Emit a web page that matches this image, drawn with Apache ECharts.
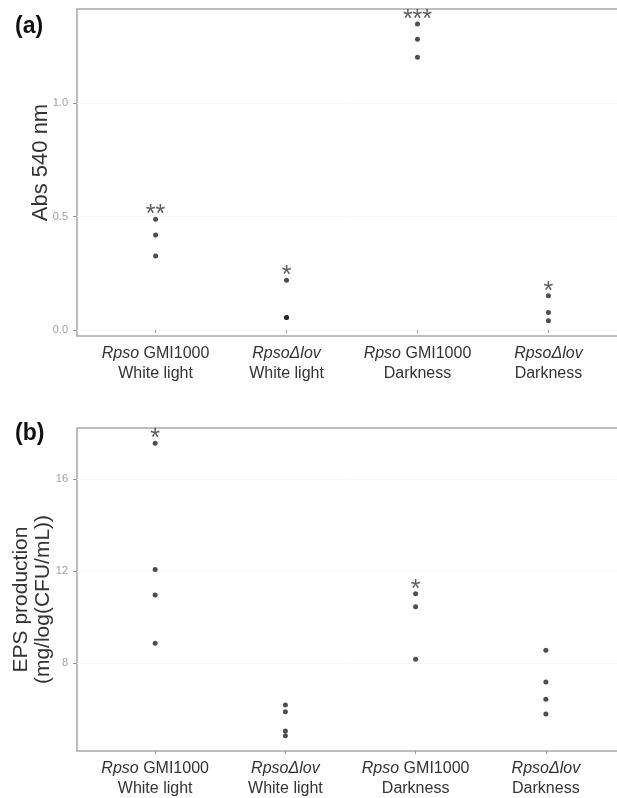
<!DOCTYPE html>
<html>
<head>
<meta charset="utf-8">
<script src="https://cdn.jsdelivr.net/npm/echarts@6/dist/echarts.min.js"></script>
<style>
  html, body { margin: 0; padding: 0; background: #fff; }
  #chart { width: 617px; height: 798px; }
</style>
</head>
<body>
<div id="chart"></div>
<script>
// strain / condition groups (x positions 1..4)
const groups = [
  '{i|Rpso} GMI1000\nWhite light',
  '{i|RpsoΔlov}\nWhite light',
  '{i|Rpso} GMI1000\nDarkness',
  '{i|RpsoΔlov}\nDarkness',
];

// (a) Abs 540 nm, one list per group
const absWhiteWT = [0.488, 0.419, 0.326];
const absWhiteLov = [0.220, 0.056, 0.056];
const absDarkWT = [1.348, 1.281, 1.201];
const absDarkLov = [0.151, 0.078, 0.041];
const absStars = ['**', '*', '***', '*'];
const absTicks = [0, 0.5, 1.0];

// (b) EPS production, one list per group
const epsWhiteWT = [17.58, 12.07, 10.96, 8.86];
const epsWhiteLov = [6.16, 5.87, 5.03, 4.83];
const epsDarkWT = [11.02, 10.45, 8.16];
const epsDarkLov = [8.55, 7.17, 6.42, 5.77];
const epsStars = ['*', '', '*', ''];
const epsTicks = [8, 12, 16];

const labelColor = '#333';
const tickColor = '#9a9a9a';
const dotColor = '#222';

function points(groupLists, stars) {
  const out = [];
  groupLists.forEach((vals, gi) => {
    const top = Math.max(...vals);
    let starDone = false;
    vals.forEach(v => {
      const item = { value: [gi + 1, v] };
      if (v === top && !starDone && stars[gi]) {
        starDone = true;
        item.label = {
          show: true,
          formatter: stars[gi],
          position: 'top',
          distance: -11,
          fontSize: 25,
          color: labelColor,
          fontFamily: 'Liberation Sans',
        };
      }
      out.push(item);
    });
  });
  return out;
}

function xAxisFor(gridIndex) {
  return {
    type: 'value',
    gridIndex: gridIndex,
    min: 0.4,
    max: 4.6,
    axisLine: { show: false },
    splitLine: { show: false },
    axisTick: {
      show: true,
      customValues: [1, 2, 3, 4],
      length: 3,
      lineStyle: { color: tickColor },
    },
    axisLabel: {
      customValues: [1, 2, 3, 4],
      formatter: v => groups[Math.round(v) - 1],
      margin: 8,
      fontSize: 16,
      lineHeight: 20,
      color: labelColor,
      fontFamily: 'Liberation Sans',
      rich: {
        i: { fontStyle: 'italic', fontSize: 16, lineHeight: 20, color: labelColor, fontFamily: 'Liberation Sans' },
      },
    },
  };
}

function yAxisFor(gridIndex, min, max, ticks, fmt, name, nameGap, nameSize, namePad) {
  return {
    type: 'value',
    gridIndex: gridIndex,
    min: min,
    max: max,
    name: name,
    nameLocation: 'middle',
    nameRotate: 90,
    nameGap: nameGap,
    nameMoveOverlap: false,
    nameTextStyle: {
      fontSize: nameSize,
      color: labelColor,
      fontFamily: 'Liberation Sans',
      lineHeight: nameSize + 1,
      padding: namePad,
    },
    axisLine: { show: false },
    splitLine: { show: true, lineStyle: { color: '#f8f8f8', width: 1 } },
    axisTick: {
      show: true,
      customValues: ticks,
      length: 4,
      lineStyle: { color: tickColor },
    },
    axisLabel: {
      customValues: ticks,
      formatter: fmt,
      margin: 9,
      fontSize: 11,
      color: '#a0a0a0',
      fontFamily: 'Liberation Sans',
    },
  };
}

const chart = echarts.init(document.getElementById('chart'));
chart.setOption({
  animation: false,
  backgroundColor: '#fff',
  title: [
    { text: '(a)', left: 10, top: 10, textStyle: { fontSize: 23, fontWeight: 'bold', color: '#111', fontFamily: 'Liberation Sans' } },
    { text: '(b)', left: 10, top: 417, textStyle: { fontSize: 23, fontWeight: 'bold', color: '#111', fontFamily: 'Liberation Sans' } },
  ],
  grid: [
    { left: 77, top: 9, width: 550, height: 327, outerBoundsMode: 'none', containLabel: false,
      show: true, borderColor: '#a8a8a8', borderWidth: 1.5, backgroundColor: 'transparent' },
    { left: 77, top: 428, width: 547, height: 323, outerBoundsMode: 'none', containLabel: false,
      show: true, borderColor: '#a8a8a8', borderWidth: 1.5, backgroundColor: 'transparent' },
  ],
  xAxis: [xAxisFor(0), xAxisFor(1)],
  yAxis: [
    yAxisFor(0, -0.026, 1.414, absTicks, v => v.toFixed(1), 'Abs 540 nm', 25, 22, [0, 0, 0, 20]),
    yAxisFor(1, 4.16, 18.24, epsTicks, v => String(v), 'EPS production\n(mg/log(CFU/mL))', 23, 21, [0, 20, 0, 0]),
  ],
  series: [
    {
      type: 'scatter',
      xAxisIndex: 0,
      yAxisIndex: 0,
      symbolSize: 5,
      itemStyle: { color: dotColor },
      data: points([absWhiteWT, absWhiteLov, absDarkWT, absDarkLov], absStars),
    },
    {
      type: 'scatter',
      xAxisIndex: 1,
      yAxisIndex: 1,
      symbolSize: 5,
      itemStyle: { color: dotColor },
      data: points([epsWhiteWT, epsWhiteLov, epsDarkWT, epsDarkLov], epsStars),
    },
  ],
});
</script>
</body>
</html>
